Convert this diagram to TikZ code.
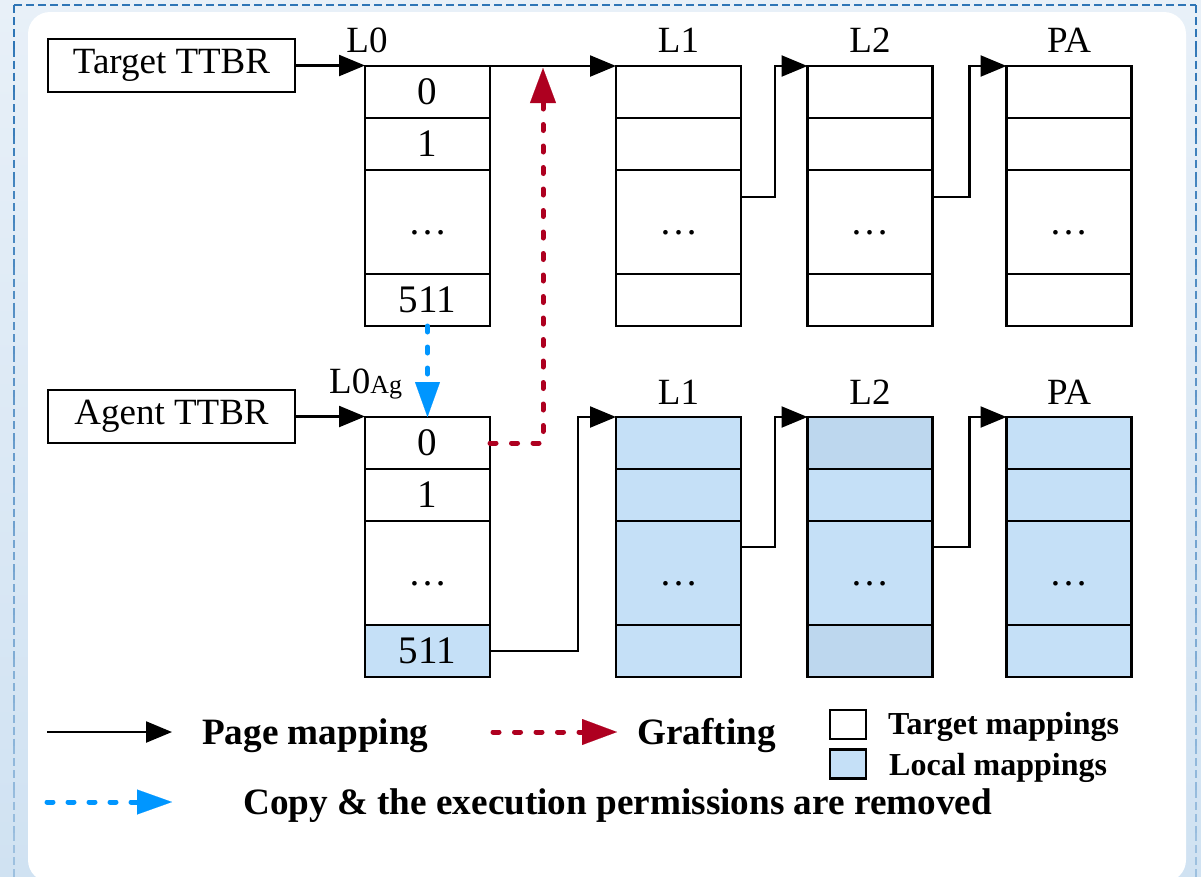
\documentclass[tikz,border=0pt]{standalone}
\usepackage{fontspec}
\setmainfont{Liberation Serif}
\usetikzlibrary{arrows.meta,calc}
\definecolor{bgtop}{RGB}{232,240,248}
\definecolor{bgbot}{RGB}{208,226,242}
\definecolor{bordc}{RGB}{46,117,182}
\definecolor{localc}{RGB}{197,224,247}
\definecolor{locald}{RGB}{189,215,238}
\definecolor{graftc}{RGB}{174,0,32}
\definecolor{copyc}{RGB}{0,150,255}
\newcommand\myfs[1]{\fontsize{#1}{#1}\selectfont}
\newcommand\ptab[9]{%
  \node[cell, fill=#4, minimum height=52pt] (#11) at (#2,#3+26) {#6};
  \node[cell, fill=#5, minimum height=52pt] (#12) at (#2,#3+78) {#7};
  \node[cell, fill=#5, minimum height=104pt] (#13) at (#2,#3+156) {\vphantom{0}…};
  \node[cell, fill=#4, minimum height=52pt] (#14) at (#2,#3+234) {#8};
}
\begin{document}
\begin{tikzpicture}[x=1pt,y=-1pt,
  cell/.style={draw, line width=2.7pt, minimum width=125pt, inner sep=0pt, outer sep=0pt, font=\myfs{39}},
  ttbr/.style={draw, fill=white, line width=2.2pt, minimum width=247pt, minimum height=53pt, inner sep=0pt, outer sep=0pt, font=\myfs{37}},
  lvl/.style={font=\myfs{37}, inner sep=0pt},
  legt/.style={font=\bfseries\myfs{37.2}, inner sep=0pt},
  legs/.style={font=\bfseries\myfs{32}, inner sep=0pt},
  legbox/.style={draw, line width=2.5pt, minimum width=36pt, minimum height=29pt, inner sep=0pt},
  parrow/.style={line width=2.3pt, -{Triangle[length=26pt,width=21pt]}},
  graft/.style={draw=graftc, line width=5pt, line cap=round, dash pattern=on 6pt off 15.5pt, -{Triangle[length=35pt,width=26pt,fill=graftc,line width=0.1pt]}},
  copyarr/.style={draw=copyc, line width=5pt, line cap=round, dash pattern=on 6pt off 15pt, -{Triangle[length=35pt,width=25pt,fill=copyc,line width=0.1pt]}},
  bdash/.style={line width=2.2pt, dash pattern=on 8pt off 4pt}
]
\useasboundingbox (0,0) rectangle (1201,876);
\clip (0,0) rectangle (1201,876);
% background
\shade[top color=bgtop, bottom color=bgbot] (0,0) rectangle (1201,876);
\draw[bdash, draw=bordc] (14,5) -- (1196,5);
\foreach \i in {0,...,19}{
  \pgfmathsetmacro\p{100-3.6*\i}
  \draw[bdash, draw=bordc!\p!bgbot] (14,{5+\i*43.6}) -- (14,{5+(\i+1)*43.6});
  \draw[bdash, draw=bordc!\p!bgbot] (1196,{5+\i*43.6}) -- (1196,{5+(\i+1)*43.6});
}
\fill[white, rounded corners=22pt] (28,12) rectangle (1186,882);

% TTBR boxes
\node[ttbr] (tt) at (171.5,65.5) {Target TTBR};
\node[ttbr] (ag) at (171.5,416.5) {Agent TTBR};

% level labels
\node[lvl, anchor=base] (lab0) at (367,52) {L0};
\node[lvl, anchor=base] (lab1) at (678.5,52) {L1};
\node[lvl, anchor=base] (lab2) at (870,52) {L2};
\node[lvl, anchor=base] (lab3) at (1069,52) {PA};
\node[lvl, anchor=base west] (lbl0) at (329,393) {L0{\myfs{26}Ag}};
\node[lvl, anchor=base] (lbl1) at (678.5,404) {L1};
\node[lvl, anchor=base] (lbl2) at (870,404) {L2};
\node[lvl, anchor=base] (lbl3) at (1069,404) {PA};

% tables
\ptab{a}{427.5}{66}{white}{white}{0}{1}{511}{}
\ptab{b}{678.5}{66}{white}{white}{}{}{}{}
\ptab{c}{870}{66}{white}{white}{}{}{}{}
\ptab{d}{1069}{66}{white}{white}{}{}{}{}
\ptab{e}{427.5}{417}{white}{white}{0}{1}{511}{}
\node[cell, fill=localc, minimum height=52pt] (e4) at (427.5,651) {511};
\ptab{f}{678.5}{417}{localc}{localc}{}{}{}{}
\ptab{g}{870}{417}{locald}{localc}{}{}{}{}
\ptab{h}{1069}{417}{localc}{localc}{}{}{}{}

% page mapping connectors
\draw[parrow] (tt) -- (tt -| a1.west);
\draw[parrow] (a1.north east) -- (b1.north west);
\draw[parrow] ($(b3.north east)+(0,27)$) -- ++(34,0) |- (c1.north west);
\draw[parrow] ($(c3.north east)+(0,27)$) -- ++(37,0) |- (d1.north west);
\draw[parrow] (ag) -- (ag -| e1.west);
\draw[parrow] (e4.east) -- ++(88,0) |- (f1.north west);
\draw[parrow] ($(f3.north east)+(0,26)$) -- ++(34,0) |- (g1.north west);
\draw[parrow] ($(g3.north east)+(0,26)$) -- ++(37,0) |- (h1.north west);

% copy and grafting
\draw[copyarr] (a4.south) -- (e1.north);
\coordinate (gtip) at (543,68);
\draw[graft] (e1.east) -| (gtip);

% legend
\coordinate (lp0) at (47,732);
\coordinate (lp1) at (172,732);
\draw[parrow] (lp0) -- (lp1);
\node[legt, anchor=base west] (lpt) at (202,744) {Page mapping};
\coordinate (lg0) at (493,732);
\coordinate (lg1) at (617,732);
\draw[graft] (lg0) -- (lg1);
\node[legt, anchor=base west] (lgt) at (637,744) {Grafting};
\coordinate (lc0) at (47,802);
\coordinate (lc1) at (172,802);
\draw[copyarr] (lc0) -- (lc1);
\node[legt, anchor=base west] (lct) at (243,814) {Copy \& the execution permissions are removed};
\node[legbox, fill=white] (lbw) at (848,724.5) {};
\node[legbox, fill=localc] (lbb) at (848,764) {};
\node[legs, anchor=base west] (lbwt) at (888,734) {Target mappings};
\node[legs, anchor=base west] (lbbt) at (889,775) {Local mappings};
\end{tikzpicture}
\end{document}
